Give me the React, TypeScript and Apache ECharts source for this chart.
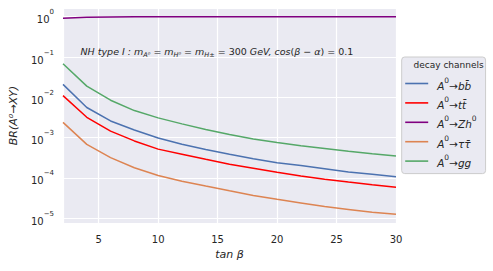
import React, { useEffect, useRef } from "react";
import * as echarts from "echarts";

const tanBeta = [2, 4, 6, 8, 10, 12, 14, 16, 18, 20, 22, 24, 26, 28, 30];
const brBB = [0.021, 0.0056, 0.0026, 0.00155, 0.00098, 0.00069, 0.00051, 0.00039, 0.0003, 0.00024, 0.000204, 0.00017, 0.000141, 0.000123, 0.000107];
const brTT = [0.011, 0.0032, 0.00145, 0.00083, 0.00052, 0.00039, 0.00029, 0.00022, 0.000174, 0.000138, 0.000112, 0.000093, 0.000079, 0.000068, 0.000059];
const brZh = [0.91, 0.97, 0.986, 0.992, 0.995, 0.996, 0.997, 0.997, 0.998, 0.998, 0.998, 0.998, 0.998, 0.998, 0.998];
const brTauTau = [0.0024, 0.00068, 0.00032, 0.00018, 0.000115, 0.000083, 0.000063, 0.000048, 0.000037, 0.0000295, 0.000024, 0.0000195, 0.0000166, 0.0000141, 0.0000126];
const brGG = [0.068, 0.019, 0.0085, 0.0047, 0.0031, 0.0022, 0.0016, 0.0012, 0.00093, 0.00076, 0.00063, 0.00054, 0.00046, 0.0004, 0.00035];

const seriesNames = ["A0→bb̄", "A0→tt̄", "A0→Zh0", "A0→ττ̄", "A0→gg"];
const seriesData = [brBB, brTT, brZh, brTauTau, brGG];
const seriesColors = ["#4C72B0", "#FF0000", "#800080", "#DD8452", "#55A868"];

const FONT = "DejaVu Sans";
const TXT = "#262626";

export default function App() {
  const ref = useRef<HTMLDivElement>(null);
  useEffect(() => {
    if (!ref.current) return;
    const chart = echarts.init(ref.current, null, { renderer: "svg" });
    const legendFormatter = (name: string) => {
      const rest = name.slice(2);
      if (rest === "→Zh0") return `{i|A}{sup|0}{i|→Zh}{sup|0}`;
      return `{i|A}{sup|0}{i|${rest}}`;
    };
    chart.setOption({
      animation: false,
      backgroundColor: "#FFFFFF",
      grid: { left: 62, right: 97, top: 8, bottom: 47.7, show: true, backgroundColor: "#EAEAF2", borderWidth: 0 },
      xAxis: {
        type: "value",
        min: 2,
        max: 30,
        splitNumber: 5,
        name: "tan β",
        nameLocation: "middle",
        nameGap: 17,
        nameTextStyle: { fontFamily: FONT, fontStyle: "italic", fontSize: 11, color: TXT },
        axisLine: { show: false },
        axisTick: { show: false },
        axisLabel: { showMinLabel: false, fontFamily: FONT, fontSize: 10, color: TXT, margin: 11 },
        splitLine: { show: true, lineStyle: { color: "#FFFFFF", width: 1.2 } },
      },
      yAxis: {
        type: "log",
        logBase: 10,
        min: Math.pow(10, -5.124),
        max: Math.pow(10, 0.216),
        name: "BR(A⁰→XY)",
        nameLocation: "middle",
        nameGap: 44,
        nameTextStyle: { fontFamily: FONT, fontStyle: "italic", fontSize: 11, color: TXT },
        axisLine: { show: false },
        axisTick: { show: false },
        splitLine: { show: true, lineStyle: { color: "#FFFFFF", width: 1.2 } },
        axisLabel: {
          showMinLabel: false,
          showMaxLabel: false,
          margin: 9,
          fontFamily: FONT,
          color: TXT,
          formatter: (v: number) => {
            const e = Math.round(Math.log10(v));
            const es = e < 0 ? "−" + Math.abs(e) : String(e);
            return `{b|10}{e|${es}}`;
          },
          rich: {
            b: { fontFamily: FONT, fontSize: 10, color: TXT, lineHeight: 16, verticalAlign: "bottom" },
            e: { fontFamily: FONT, fontSize: 7, color: TXT, lineHeight: 9, verticalAlign: "top" },
          },
        },
      },
      legend: {
        orient: "vertical",
        left: 401.7,
        top: 57,
        data: seriesNames,
        icon: "rect",
        backgroundColor: "#EAEAF2",
        borderColor: "#CCCCCC",
        borderWidth: 1,
        borderRadius: 3,
        padding: [19, 9, 5, 3.5],
        itemWidth: 23,
        itemHeight: 1.6,
        itemGap: 4.4,
        formatter: legendFormatter,
        textStyle: {
          padding: [0, 0, 0, 4],
          rich: {
            i: { fontFamily: FONT, fontStyle: "italic", fontSize: 10.5, color: TXT, lineHeight: 15, verticalAlign: "bottom" },
            sup: { fontFamily: FONT, fontSize: 7.5, color: TXT, lineHeight: 11, verticalAlign: "top" },
          },
        },
      },
      graphic: [
        {
          type: "text",
          left: 413.5,
          top: 60.5,
          z: 100,
          zlevel: 0,
          style: { text: "decay channels", fontFamily: FONT, fontSize: 9, fill: TXT },
        },
        {
          type: "text",
          left: 80.5,
          top: 46,
          z: 100,
          style: {
            text:
              "{i|NH type I : m}{s|A⁰}{r| = }{i|m}{s|H⁰}{r| = }{i|m}{s|H±}{r| = 300 }{i|GeV, cos}{r|(}{i|β}{r| − }{i|α}{r|) = 0.1}",
            rich: {
              i: { fontFamily: FONT, fontStyle: "italic", fontSize: 9.5, fill: TXT, lineHeight: 14, verticalAlign: "middle" },
              r: { fontFamily: FONT, fontSize: 9.5, fill: TXT, lineHeight: 14, verticalAlign: "middle" },
              s: { fontFamily: FONT, fontStyle: "italic", fontSize: 6.5, fill: TXT, lineHeight: 8, verticalAlign: "bottom" },
            },
          },
        },
      ],
      series: seriesNames.map((n, k) => ({
        name: n,
        type: "line",
        symbol: "none",
        data: tanBeta.map((t, i) => [t, seriesData[k][i]]),
        lineStyle: { color: seriesColors[k], width: 1.5 },
        itemStyle: { color: seriesColors[k] },
      })),
    });
    return () => chart.dispose();
  }, []);
  return <div ref={ref} style={{ width: 493, height: 271, position: "absolute", left: 0, top: 0 }} />;
}
